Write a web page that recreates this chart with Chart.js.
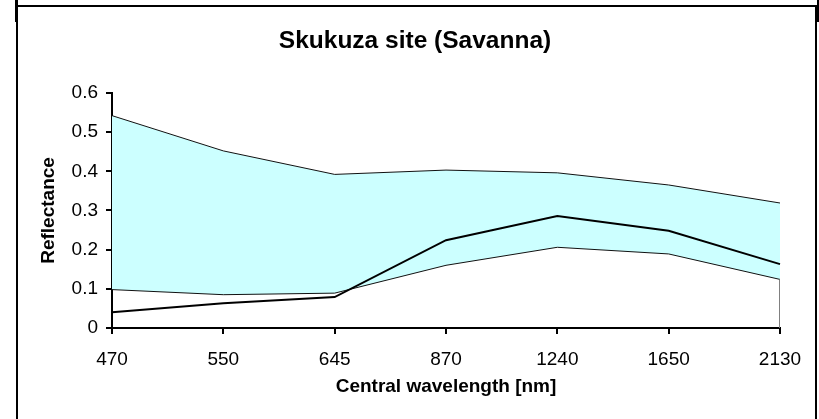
<!DOCTYPE html>
<html>
<head>
<meta charset="utf-8">
<script src="https://cdn.jsdelivr.net/npm/chart.js@4/dist/chart.umd.min.js"></script>
<style>
  html, body { margin: 0; padding: 0; background: #fff; }
  #wrap { position: relative; width: 819px; height: 419px; overflow: hidden; }
  #chart { position: absolute; left: 0; top: 0; }
  .frame { position: absolute; pointer-events: none; box-sizing: border-box; }
  #outer { left: 15px; top: -40px; width: 805px; height: 62px; border-left: 3px solid #000; border-right: 3px solid #000; }
  #inner { left: 16px; top: 5px; width: 801px; height: 440px; border: 2px solid #000; }
</style>
</head>
<body>
<div id="wrap">
  <canvas id="chart" width="819" height="419"></canvas>
  <div class="frame" id="outer"></div>
  <div class="frame" id="inner"></div>
</div>
<script>
let wavelengths = ['470', '550', '645', '870', '1240', '1650', '2130'];
let upperValues = [0.542, 0.452, 0.392, 0.403, 0.396, 0.365, 0.319];
let lowerValues = [0.098, 0.085, 0.089, 0.160, 0.206, 0.189, 0.124];
let siteValues = [0.040, 0.063, 0.079, 0.224, 0.286, 0.248, 0.163];
let yTicks = [0, 0.1, 0.2, 0.3, 0.4, 0.5, 0.6];

const fontFamily = '"Liberation Sans", Arial, sans-serif';

// closes the lower band edge down to the axis at the last wavelength
const edgePlugin = {
  id: 'edgeLine',
  afterDatasetsDraw(chart) {
    let x = chart.scales.x;
    let y = chart.scales.y;
    let last = wavelengths.length - 1;
    let px = x.getPixelForValue(last);
    let ctx = chart.ctx;
    ctx.save();
    ctx.strokeStyle = '#808080';
    ctx.lineWidth = 1;
    ctx.beginPath();
    ctx.moveTo(Math.round(px) - 0.5, y.getPixelForValue(lowerValues[last]));
    ctx.lineTo(Math.round(px) - 0.5, y.getPixelForValue(0));
    ctx.stroke();
    ctx.restore();
  }
};

function drawChart() {
  let canvas = document.getElementById('chart');

  new Chart(canvas, {
    type: 'line',
    data: {
      labels: wavelengths,
      datasets: [
        {
          label: 'Site',
          data: siteValues,
          borderColor: '#000',
          borderWidth: 2,
          pointRadius: 0,
          fill: false,
          order: 1
        },
        {
          label: 'Upper',
          data: upperValues,
          borderColor: '#111',
          borderWidth: 1,
          backgroundColor: '#CCFFFF',
          pointRadius: 0,
          fill: '+1',
          order: 3
        },
        {
          label: 'Lower',
          data: lowerValues,
          borderColor: '#111',
          borderWidth: 1,
          pointRadius: 0,
          fill: false,
          order: 2
        }
      ]
    },
    options: {
      responsive: false,
      animation: false,
      events: [],
      layout: { padding: { left: 11, right: 0, top: 0, bottom: 0 } },
      plugins: {
        legend: { display: false },
        tooltip: { enabled: false },
        title: {
          display: true,
          text: 'Skukuza site (Savanna)',
          color: '#000',
          font: { family: fontFamily, size: 24.5, weight: 'bold' },
          padding: { top: 27, bottom: 36.5 }
        }
      },
      scales: {
        x: {
          offset: false,
          afterFit: s => { s.height = 91; },
          grid: { drawOnChartArea: false, drawTicks: true, tickLength: 6, color: '#000', lineWidth: 2 },
          border: { color: '#000', width: 2 },
          ticks: {
            color: '#000',
            font: { family: fontFamily, size: 19 },
            padding: 14,
            maxRotation: 0,
            autoSkip: false
          },
          title: {
            display: true,
            text: 'Central wavelength [nm]',
            color: '#000',
            font: { family: fontFamily, size: 19, weight: 'bold' },
            padding: { top: 0, bottom: 21 }
          }
        },
        y: {
          min: 0,
          max: 0.6,
          afterFit: s => { s.width = 101; },
          afterBuildTicks: s => { s.ticks = yTicks.map(v => ({ value: v })); },
          grid: { drawOnChartArea: false, drawTicks: true, tickLength: 6, color: '#000', lineWidth: 2 },
          border: { color: '#000', width: 2 },
          ticks: {
            color: '#000',
            font: { family: fontFamily, size: 19 },
            padding: 8,
            callback: v => String(v)
          },
          title: {
            display: true,
            text: 'Reflectance',
            color: '#000',
            font: { family: fontFamily, size: 19, weight: 'bold' },
            padding: { top: 26, bottom: 0 }
          }
        },
        // empty margin on the right of the plot
        yRight: {
          type: 'linear',
          position: 'right',
          afterFit: s => { s.width = 39; },
          grid: { display: false },
          border: { display: false },
          ticks: { display: false }
        }
      }
    },
    plugins: [edgePlugin]
  });
}

drawChart();
</script>
</body>
</html>
